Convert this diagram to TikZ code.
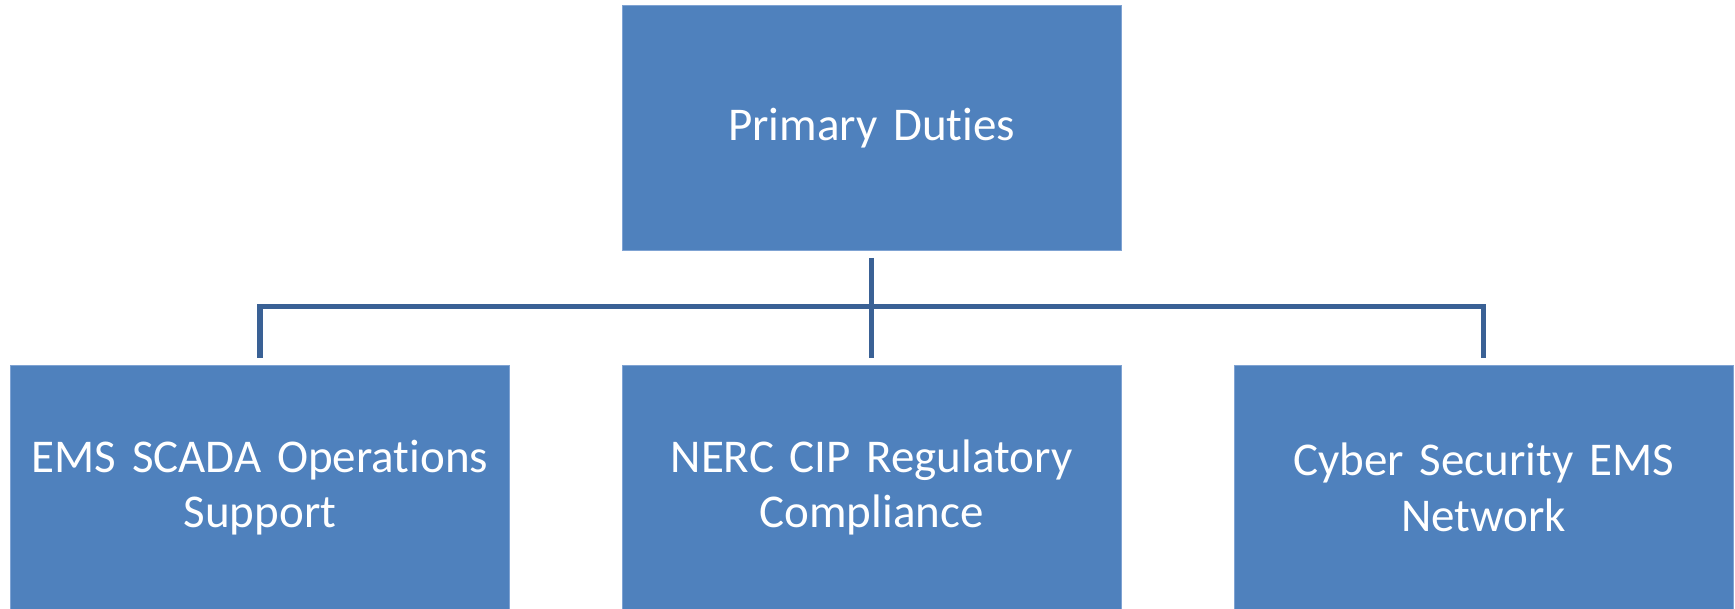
\documentclass[tikz,border=0pt]{standalone}
\usepackage{fontspec}
\setmainfont[RawFeature={-liga;-clig;-calt;-dlig},WordSpace=0.8]{Carlito}
\definecolor{boxfill}{HTML}{4F81BD}
\definecolor{boxline}{HTML}{7FA3D3}
\definecolor{connclr}{HTML}{3A6195}
\begin{document}
\begin{tikzpicture}[x=0.5pt,y=-0.5pt,
  duty/.style={rectangle, fill=boxfill, draw=boxline, line width=0.4pt,
    minimum width=249.5pt, minimum height=122.5pt, inner sep=0pt,
    text=white, align=center, text width=240pt,
    font=\fontsize{23.5}{27.8}\selectfont},
  conn/.style={draw=connclr, line width=2.6pt}]
\useasboundingbox (0,0) rectangle (1735,609);
\node[duty] (top) at (871.5,128) {Primary Duties};
\node[duty] (b1) at (260,487.5) {EMS SCADA Operations\\Support};
\node[duty] (b2) at (871.5,487.5) {NERC CIP Regulatory\\Compliance};
\node[duty] (b3) at (1483.5,487.5) {Cyber Security EMS\\Network};
\coordinate (j) at (871.5,306.5);
\draw[conn] ([yshift=-3.5pt]top.south) -- ([yshift=3.5pt]b2.north);
\draw[conn] ([yshift=3.5pt]b1.north) |- (j) -| ([yshift=3.5pt]b3.north);
\end{tikzpicture}
\end{document}
